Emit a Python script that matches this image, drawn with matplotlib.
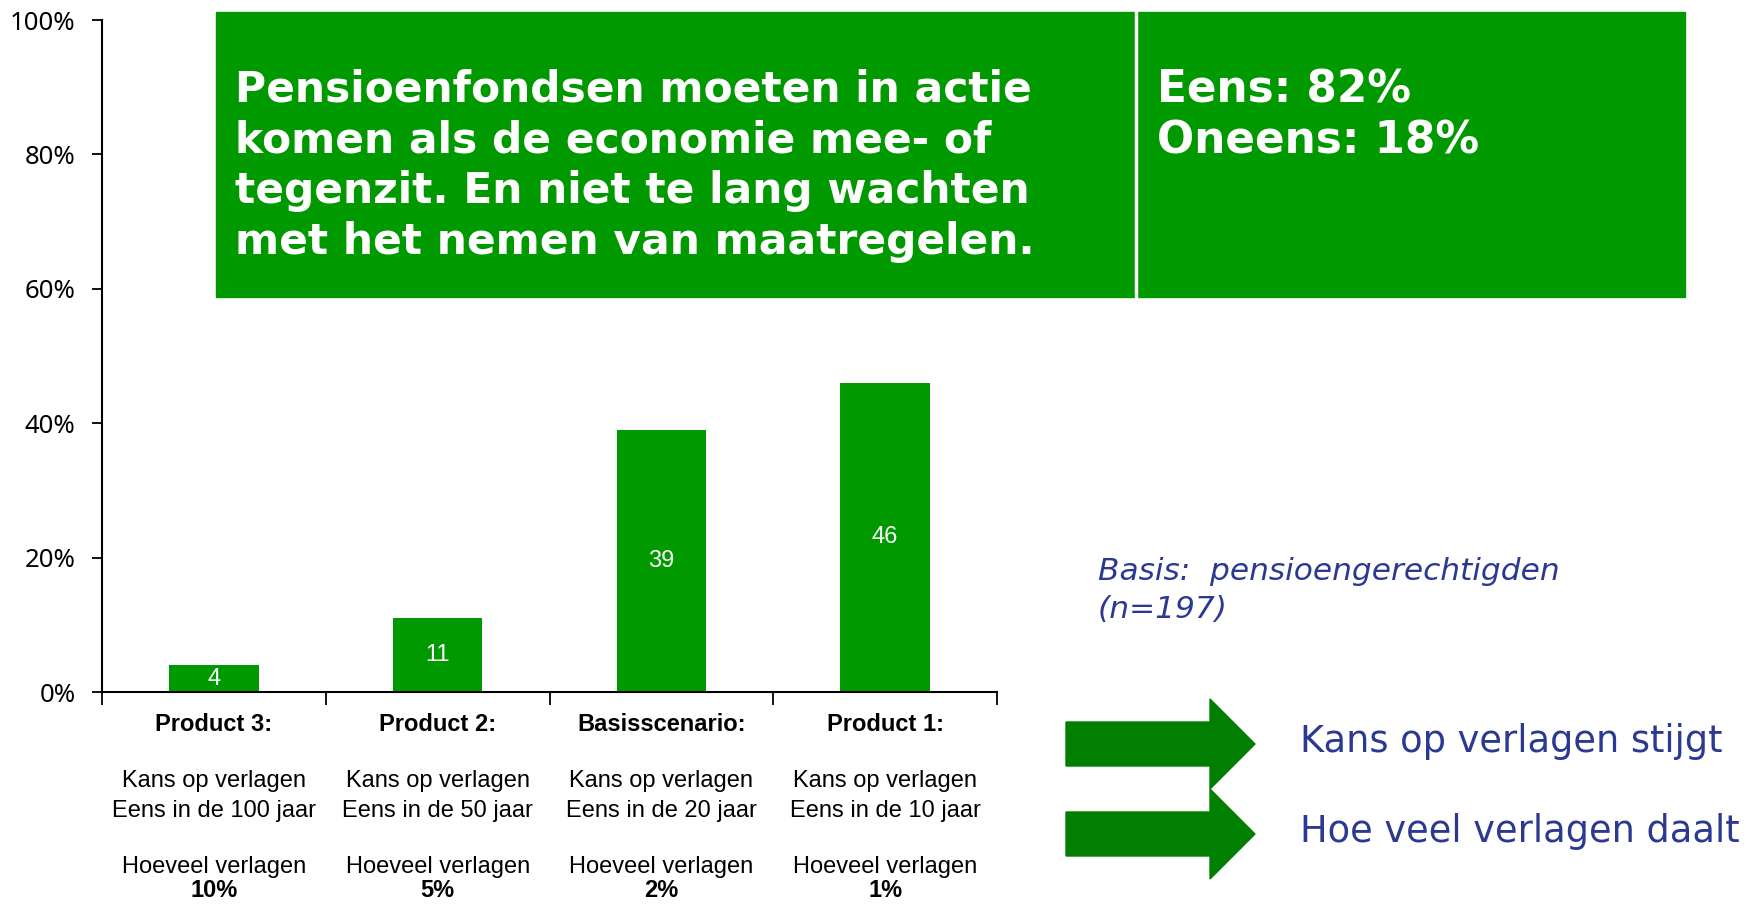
import matplotlib
matplotlib.use("Agg")
import matplotlib.pyplot as plt
from matplotlib import font_manager
from matplotlib.patches import Rectangle, Polygon

W, H = 1746, 905

# chart data
categories = ["Product 3:", "Product 2:", "Basisscenario:", "Product 1:"]
values = [4, 11, 39, 46]
chance = ["Eens in de 100 jaar", "Eens in de 50 jaar", "Eens in de 20 jaar", "Eens in de 10 jaar"]
cut = ["10%", "5%", "2%", "1%"]
y_ticks = [0, 20, 40, 60, 80, 100]

statement = ["Pensioenfondsen moeten in actie",
             "komen als de economie mee- of",
             "tegenzit. En niet te lang wachten",
             "met het nemen van maatregelen."]
agree = ["Eens: 82%", "Oneens: 18%"]
arrow_texts = ["Kans op verlagen stijgt", "Hoe veel verlagen daalt"]

GREEN = "#009900"
DARK_GREEN = "#007f00"
NAVY = "#2b3990"

names = {f.name for f in font_manager.fontManager.ttflist}
narrow = "Liberation Sans Narrow" if "Liberation Sans Narrow" in names else "Liberation Sans"


def fx(px):
    return px / W


def fy(py):
    return 1 - py / H


fig = plt.figure(figsize=(W / 100, H / 100), dpi=100)

# bar chart
ax = fig.add_axes([fx(102), fy(692), fx(997) - fx(102), fy(20) - fy(692)])
x = range(len(values))
bars = ax.bar(x, values, width=0.4, color=GREEN)
for b, v in zip(bars, values):
    ax.text(b.get_x() + b.get_width() / 2, v / 2, str(v), ha="center", va="center",
            color="white", fontsize=17, family=narrow)

ax.set_xlim(-0.5, len(values) - 0.5)
ax.set_ylim(0, 100)
ax.set_yticks(y_ticks)
ax.set_yticklabels([f"{t}%" for t in y_ticks], fontsize=18.5, family="Noto Sans")
ax.set_xticks([i - 0.5 for i in range(len(values) + 1)])
ax.set_xticklabels([])
ax.tick_params(axis="y", length=7, width=1.3, pad=12)
ax.tick_params(axis="x", length=9, width=1.3, direction="out")
for s in ["top", "right"]:
    ax.spines[s].set_visible(False)
for s in ["left", "bottom"]:
    ax.spines[s].set_linewidth(1.5)

tr = ax.get_xaxis_transform()
fs = 17
for i, cat in enumerate(categories):
    ax.text(i, -0.049, cat, transform=tr, ha="center", va="center", fontsize=fs,
            weight="bold", family=narrow)
    ax.text(i, -0.1325, "Kans op verlagen", transform=tr, ha="center", va="center",
            fontsize=fs, family=narrow)
    ax.text(i, -0.177, chance[i], transform=tr, ha="center", va="center",
            fontsize=fs, family=narrow)
    ax.text(i, -0.261, "Hoeveel verlagen", transform=tr, ha="center", va="center",
            fontsize=fs, family=narrow)
    ax.text(i, -0.296, cut[i], transform=tr, ha="center", va="center", fontsize=fs,
            weight="bold", family=narrow)

# green statement box
fig.patches.append(Rectangle((fx(216), fy(297)), fx(1685) - fx(216), fy(12) - fy(297),
                             transform=fig.transFigure, color=GREEN, zorder=0))
fig.add_artist(plt.Line2D([fx(1136), fx(1136)], [fy(297), fy(12)],
                          transform=fig.transFigure, color="white", lw=2.5))
for k, line in enumerate(statement):
    fig.text(fx(235), fy(90 + 50.7 * k), line, va="center", ha="left", color="white",
             fontsize=30.5, weight="bold", family="DejaVu Sans")
for k, line in enumerate(agree):
    fig.text(fx(1157), fy(90 + 50.7 * k), line, va="center", ha="left", color="white",
             fontsize=31.5, weight="bold", family="DejaVu Sans")

# basis note
fig.text(fx(1098), fy(571), "Basis:  pensioengerechtigden", va="center", ha="left",
         color=NAVY, fontsize=22.5, style="italic", family="DejaVu Sans")
fig.text(fx(1098), fy(609), "(n=197)", va="center", ha="left",
         color=NAVY, fontsize=22.5, style="italic", family="DejaVu Sans")

# arrows
for k, txt in enumerate(arrow_texts):
    cy = 744 + 90 * k
    pts = [(1066, cy - 22), (1210, cy - 22), (1210, cy - 45), (1255, cy),
           (1210, cy + 45), (1210, cy + 22), (1066, cy + 22)]
    fig.patches.append(Polygon([(fx(a), fy(b)) for a, b in pts], closed=True,
                               transform=fig.transFigure, color=DARK_GREEN))
    fig.text(fx(1300), fy(cy - 3), txt, va="center", ha="left", color=NAVY,
             fontsize=26.5, family="DejaVu Sans")

fig.savefig("out.png", dpi=100)
